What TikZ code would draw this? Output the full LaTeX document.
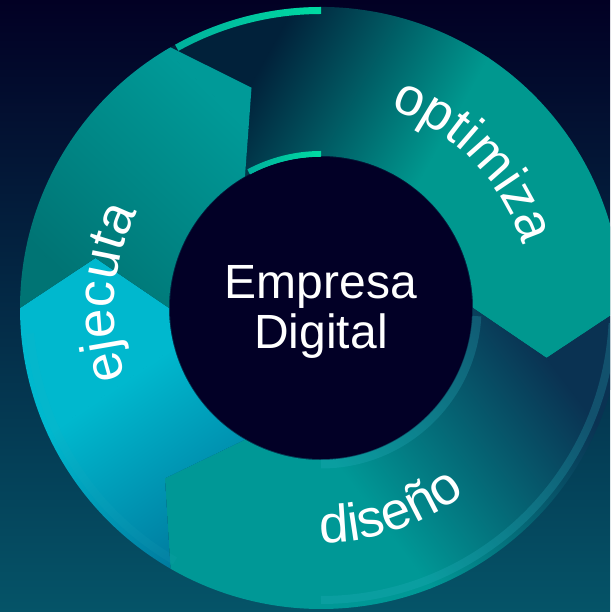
\documentclass[tikz,border=0pt]{standalone}
\usepackage{fontspec}
\setmainfont{Liberation Sans}
\usetikzlibrary{decorations.text}
\definecolor{bgtop}{HTML}{020024}
\definecolor{bgmid}{HTML}{022a45}
\definecolor{bgbot}{HTML}{055468}
\definecolor{hubfill}{HTML}{020026}
\definecolor{optA}{HTML}{01213A}
\definecolor{optB}{HTML}{00988F}
\definecolor{disA}{HTML}{009896}
\definecolor{disB}{HTML}{0A3252}
\definecolor{ejlA}{HTML}{00B8CE}
\definecolor{ejlB}{HTML}{00789C}
\definecolor{ejuA}{HTML}{007474}
\definecolor{ejuB}{HTML}{009A98}
\definecolor{grnA}{HTML}{00AE9C}
\definecolor{grnB}{HTML}{00DBA2}
\definecolor{rimcol}{HTML}{2AB0C0}
\def\Ro{301}
\def\Ri{152}
\def\Rt{231}
\def\dT{12.5}
% chevron ring segment: #1 tail angle, #2 head angle (clockwise, #2<#1)
\newcommand\chevpath[2]{(#1:\Ro) arc[start angle=#1, end angle=#2, radius=\Ro] -- ({#2-\dT}:\Rt) -- (#2:\Ri) arc[start angle=#2, end angle=#1, radius=\Ri] -- ({#1-\dT}:\Rt) -- cycle}
% linear gradient from point A (#1,#2) along angle #3 over length #4, colours #5 -> #6
\newcommand\lingrad[6]{%
  \begin{scope}[transform canvas={shift={(#1,#2)},rotate=#3}]
    \fill[#5] (-900,-900) rectangle (0.6,900);
    \shade[left color=#5,right color=#6] (0,-900) rectangle (#4,900);
    \fill[#6] ({#4-0.6},-900) rectangle ({#4+900},900);
  \end{scope}}
\tikzset{
  ringtext/.style={decorate, decoration={text along path, text align=center, text={|\fontsize{53}{56}\selectfont\color{white}|#1}}},
}
\begin{document}
\begin{tikzpicture}[x=1pt,y=1pt]
\useasboundingbox (0,0) rectangle (610,612);
\begin{scope}
\clip (0,0) rectangle (610,612);
% background
\shade[bottom color=bgbot, middle color=bgmid, top color=bgtop] (0,0) rectangle (610,612);
% optimiza arrow
\begin{scope}
  \clip[shift={(321,304)}] \chevpath{120}{0};
  \lingrad{250}{527}{-29.2}{195}{optA}{optB}
\end{scope}
% diseno arrow
\begin{scope}
  \clip[shift={(321,304)}] \chevpath{0}{-120};
  \lingrad{390}{77}{37.1}{232}{disA}{disB}
\end{scope}
% ejecuta lower part
\begin{scope}
  \clip[shift={(321,304)}] \chevpath{240}{180};
  \lingrad{80}{200}{-55.4}{190}{ejlA}{ejlB}
\end{scope}
% ejecuta upper part
\begin{scope}
  \clip[shift={(321,304)}] \chevpath{180}{120};
  \lingrad{70}{332}{46.7}{233}{ejuA}{ejuB}
\end{scope}
% rims
\draw[shift={(321,304)}, rimcol, opacity=0.25, line width=8] (-90:292) arc[start angle=-90, end angle=-3, radius=292];
\draw[shift={(321,304)}, rimcol, opacity=0.25, line width=9] (-90:156) arc[start angle=-90, end angle=-3, radius=156];
\draw[shift={(321,304)}, rimcol, opacity=0.1, line width=8] (185:292) arc[start angle=185, end angle=240, radius=292];
% green arcs
\begin{scope}
  \clip[shift={(321,304)}] (90:301) arc[start angle=90, end angle=119, radius=301] -- (119:294) arc[start angle=119, end angle=90, radius=294] -- cycle;
  \shade[left color=grnA, right color=grnB] (170,550) rectangle (321,612);
\end{scope}
\begin{scope}
  \clip[shift={(321,304)}] (90:157) arc[start angle=90, end angle=118, radius=157] -- (118:151) arc[start angle=118, end angle=90, radius=151] -- cycle;
  \shade[left color=grnA, right color=grnB] (245,430) rectangle (321,462);
\end{scope}
% hub
\fill[hubfill] (321,304) circle (151);
\node[font=\fontsize{48}{50}\selectfont, text=white, align=center, inner sep=0pt] (hub) at (321,300) {Empresa\\Digital};
% ring labels
\path[shift={(321,304)}, ringtext=optimiza] (84:211) arc[start angle=84, end angle=4, radius=211];
\path[shift={(321,304)}, ringtext=ejecuta] (216:207) arc[start angle=216, end angle=136, radius=207];
\path[shift={(321,304)}, ringtext=diseño] (-111:235) arc[start angle=-111, end angle=-31, radius=235];
\end{scope}
\end{tikzpicture}
\end{document}
